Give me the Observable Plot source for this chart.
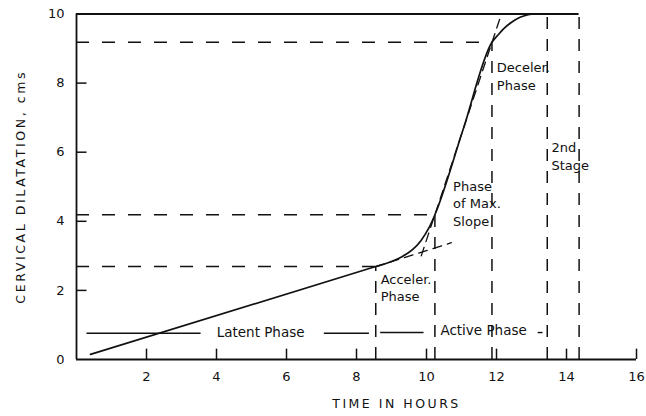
<!DOCTYPE html>
<html>
<head>
<meta charset="utf-8">
<script src="https://cdn.jsdelivr.net/npm/d3@7"></script>
<script src="https://cdn.jsdelivr.net/npm/@observablehq/plot@0.6"></script>
<style>
  html, body { margin: 0; padding: 0; background: #fff; }
</style>
</head>
<body>
<div id="chart"></div>
<script>
// ---- data ----
const xTickValues = [2, 4, 6, 8, 10, 12, 14, 16];
const yTickValues = [0, 2, 4, 6, 8, 10];
const yTickMarks = [2, 4, 6, 8];

// labour curve (hours, cm)
const curveHours = [0.4, 8.55, 8.9, 9.27, 9.6, 9.84, 10.08, 10.24, 11.05, 11.87, 12.05, 12.2, 12.4, 12.6, 12.8, 13.05];
const curveDilatation = [0.15, 2.69, 2.8, 2.96, 3.18, 3.44, 3.83, 4.19, 6.67, 9.18, 9.4, 9.57, 9.74, 9.87, 9.95, 10.0];

// dashed horizontal guides (from the y axis to the phase boundary)
const guideLevels = [9.18, 4.19, 2.69];
const guideEnds = [11.87, 10.24, 8.55];

// dashed vertical phase boundaries
const boundaryHours = [8.55, 10.24, 11.87, 13.45, 14.36];
const boundaryTops = [2.69, 4.19, 9.18, 10, 10];

// dashed extensions of the latent and maximum-slope lines
const latentExtHours = [8.55, 10.71];
const latentExtDil = [2.69, 3.38];
const slopeExtHours = [9.85, 12.14];
const slopeExtDil = [3.0, 10.0];

// "Latent Phase" / "Active Phase" row segments
const rowStart = [0.3, 7.08, 8.69, 13.19];
const rowEnd = [3.56, 8.37, 9.93, 13.33];
const rowLevel = [0.76, 0.76, 0.78, 0.78];

// annotations
const noteText = ["Latent Phase", "Active Phase", "Acceler.\nPhase", "Phase\nof Max.\nSlope", "Deceler.\nPhase", "2nd\nStage"];
const noteX = [5.26, 11.63, 8.69, 10.76, 12.01, 13.57];
const noteY = [0.79, 0.84, 2.1, 4.54, 8.22, 5.9];
const noteAnchor = ["middle", "middle", "start", "start", "start", "start"];

const xLabel = "TIME IN HOURS";
const yLabel = "CERVICAL DILATATION, cms";

// ---- tables built from the arrays ----
const curve = curveHours.map((h, i) => ({h, d: curveDilatation[i]}));
const guides = guideLevels.map((y, i) => ({y, x2: guideEnds[i]}));
const bounds = boundaryHours.map((x, i) => ({x, y2: boundaryTops[i]}));
const latentExt = latentExtHours.map((h, i) => ({h, d: latentExtDil[i]}));
const slopeExt = slopeExtHours.map((h, i) => ({h, d: slopeExtDil[i]}));
const rows = rowStart.map((x1, i) => ({x1, x2: rowEnd[i], y: rowLevel[i]}));
const notes = noteText.map((t, i) => ({t, x: noteX[i], y: noteY[i], a: noteAnchor[i]}));

const ink = "#111";
const dash = "12,10";

const chart = Plot.plot({
  width: 646,
  height: 416,
  marginLeft: 76,
  marginRight: 10,
  marginTop: 13.5,
  marginBottom: 57,
  x: {domain: [0, 16], ticks: xTickValues, tickSize: 0, tickPadding: 12, label: null},
  y: {domain: [0, 10], ticks: yTickValues, tickSize: 0, tickPadding: 12, label: null},
  style: {fontFamily: "'DejaVu Sans', sans-serif", fontSize: "13px", color: ink, background: "#fff"},
  marks: [
    // frame: y axis, x axis, top line
    Plot.ruleX([0], {y1: 0, y2: 10, stroke: ink, strokeWidth: 1.8}),
    Plot.ruleY([0], {x1: 0, x2: 16, stroke: ink, strokeWidth: 1.8}),
    Plot.ruleY([10], {x1: 0, x2: 14.36, stroke: ink, strokeWidth: 1.8}),
    // inward tick marks
    Plot.ruleX(xTickValues, {x: d => d, y1: 0, y2: 0.3, stroke: ink, strokeWidth: 1.5}),
    Plot.ruleY(yTickMarks, {y: d => d, x1: 0, x2: 0.3, stroke: ink, strokeWidth: 1.5}),
    // dashed guides
    Plot.ruleY(guides, {y: "y", x1: 0, x2: "x2", stroke: ink, strokeWidth: 1.5, strokeDasharray: "13,13"}),
    Plot.ruleX(bounds, {x: "x", y1: 0, y2: "y2", stroke: ink, strokeWidth: 1.5, strokeDasharray: dash}),
    Plot.line(latentExt, {x: "h", y: "d", stroke: ink, strokeWidth: 1.3, strokeDasharray: "9,6"}),
    Plot.line(slopeExt, {x: "h", y: "d", stroke: ink, strokeWidth: 1.3, strokeDasharray: "9,6"}),
    // phase rows
    Plot.ruleY(rows, {y: "y", x1: "x1", x2: "x2", stroke: ink, strokeWidth: 1.4}),
    // the curve
    Plot.line(curve, {x: "h", y: "d", curve: "monotone-x", stroke: ink, strokeWidth: 1.7}),
    // annotations
    Plot.text(notes.filter(n => n.a === "middle"), {x: "x", y: "y", text: "t", textAnchor: "middle", fill: ink, fontSize: 13.5}),
    Plot.text(notes.filter(n => n.a === "start"), {x: "x", y: "y", text: "t", textAnchor: "start", fill: ink, fontSize: 13, lineHeight: 1.35}),
    // axis titles
    Plot.text([xLabel], {text: d => d, frameAnchor: "bottom", textAnchor: "middle", dx: 40, dy: 48, fill: ink, fontSize: 12.5}),
    Plot.text([yLabel], {text: d => d, frameAnchor: "left", textAnchor: "middle", dx: -56, rotate: -90, fill: ink, fontSize: 12.5})
  ]
});

d3.select(chart).selectAll("text")
  .filter(function () { return this.textContent === xLabel; })
  .attr("letter-spacing", "2.5");
d3.select(chart).selectAll("text")
  .filter(function () { return this.textContent === yLabel; })
  .attr("letter-spacing", "2.6");

document.getElementById("chart").appendChild(chart);
</script>
</body>
</html>
